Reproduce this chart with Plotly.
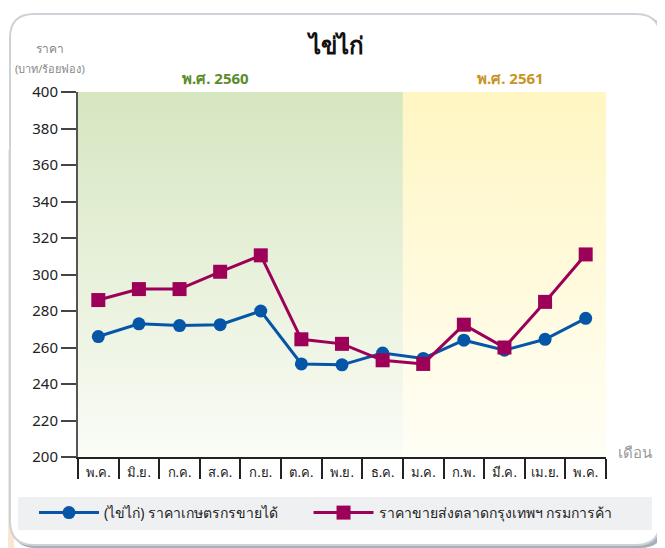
import plotly.graph_objects as go

# ข้อมูล
months = ["พ.ค.", "มิ.ย.", "ก.ค.", "ส.ค.", "ก.ย.", "ต.ค.", "พ.ย.", "ธ.ค.",
          "ม.ค.", "ก.พ.", "มี.ค.", "เม.ย.", "พ.ค."]
farm_price = [266, 273, 272, 272.5, 280, 251, 250.5, 257, 254, 264, 258.5, 264.5, 276]
wholesale_price = [286, 292, 292, 301.5, 310.5, 264.5, 262, 253, 251, 272.5, 260, 285, 311]
year_labels = ["พ.ศ. 2560", "พ.ศ. 2561"]
months_per_year = [8, 5]
y_ticks = list(range(200, 401, 20))

# หน้า html มี margin 8px ที่ body -> เลื่อนพิกัดทั้งหมด
OFF = 8
W, H = 665 - OFF, 548 - OFF
ML, MR, MT, MB = 78 - OFF, 59, 92 - OFF, 91
PW, PH = W - ML - MR, H - MT - MB


def px(x, y):
    """พิกัดพิกเซลของภาพอ้างอิง -> paper"""
    return (x - OFF - ML) / PW, (H - MB - (y - OFF)) / PH


def rounded(xa, ya, xb, yb, r):
    x0, y0 = px(xa, ya)
    x1, y1 = px(xb, yb)
    rx, ry = r / PW, r / PH
    return (f"M {x0 + rx},{y0} L {x1 - rx},{y0} Q {x1},{y0} {x1},{y0 - ry} "
            f"L {x1},{y1 + ry} Q {x1},{y1} {x1 - rx},{y1} L {x0 + rx},{y1} "
            f"Q {x0},{y1} {x0},{y1 + ry} L {x0},{y0 - ry} Q {x0},{y0} {x0 + rx},{y0} Z")


idx = list(range(len(months)))
fig = go.Figure()

# พื้นหลังไล่สี ปี 2560 / 2561
bg = [("#d6e6c0", "#fafcf6"), ("#fff6c2", "#fffef6")]
start = -0.5
for n, (top, bottom) in zip(months_per_year, bg):
    x0, x1 = start, start + n
    fig.add_trace(go.Scatter(
        x=[x0, x1, x1, x0, x0], y=[200, 200, 400, 400, 200],
        fill="toself", mode="none", showlegend=False, hoverinfo="skip",
        fillgradient=dict(type="vertical", colorscale=[[0, bottom], [1, top]]),
    ))
    start = x1

# ช่องว่างท้ายชื่อชุดแรกเพื่อให้ระยะห่างในคำอธิบายเท่าต้นฉบับ
fig.add_trace(go.Scatter(
    x=idx, y=farm_price, name="(ไข่ไก่) ราคาเกษตรกรขายได้" + "\u00a0" * 7,
    mode="lines+markers",
    line=dict(color="#0656a8", width=3),
    marker=dict(symbol="circle", size=13, color="#0656a8"),
))
fig.add_trace(go.Scatter(
    x=idx, y=wholesale_price, name="ราคาขายส่งตลาดกรุงเทพฯ กรมการค้า",
    mode="lines+markers",
    line=dict(color="#9c0058", width=3),
    marker=dict(symbol="square", size=14, color="#9c0058"),
))

shapes = []
# พื้นหลังสีส้มอ่อนด้านซ้าย
sx0, sy0 = px(0, 150)
sx1, sy1 = px(14, 548)
shapes.append(dict(type="rect", xref="paper", yref="paper", x0=sx0, x1=sx1, y0=sy1, y1=sy0,
                   fillcolor="#fbe6d2", line=dict(width=0), layer="below"))
# เงาและกรอบการ์ด
shapes.append(dict(type="path", xref="paper", yref="paper", path=rounded(12, 16, 664, 548, 24),
                   fillcolor="#a9afb7", line=dict(width=0), layer="below"))
shapes.append(dict(type="path", xref="paper", yref="paper", path=rounded(10, 14, 660, 545, 24),
                   fillcolor="white", line=dict(color="#cdd2d9", width=2), layer="below"))
# กล่องคำอธิบาย
lx0, ly0 = px(18, 497)
lx1, ly1 = px(652, 530)
shapes.append(dict(type="rect", xref="paper", yref="paper", x0=lx0, x1=lx1, y0=ly1, y1=ly0,
                   fillcolor="#eff0f2", line=dict(width=0), layer="below"))

annotations = [
    dict(text="<b>ไข่ไก่</b>", x=px(335, 0)[0], y=px(0, 45)[1], font=dict(size=24, color="#111")),
    dict(text="ราคา", x=px(50, 0)[0], y=px(0, 48)[1], font=dict(size=12, color="#888")),
    dict(text="(บาท/ร้อยฟอง)", x=px(50, 0)[0], y=px(0, 69)[1], font=dict(size=11, color="#888")),
    dict(text="<b>" + year_labels[0] + "</b>", x=px(215, 0)[0], y=px(0, 78)[1],
         font=dict(size=15, color="#5b8c2a")),
    dict(text="<b>" + year_labels[1] + "</b>", x=px(510, 0)[0], y=px(0, 78)[1],
         font=dict(size=15, color="#c8941f")),
    dict(text="เดือน", x=px(635, 0)[0], y=px(0, 452)[1], font=dict(size=15, color="#999")),
]
for a in annotations:
    a.update(xref="paper", yref="paper", showarrow=False, xanchor="center", yanchor="middle")

fig.update_layout(
    width=W, height=H,
    margin=dict(l=ML, r=MR, t=MT, b=MB),
    paper_bgcolor="white",
    plot_bgcolor="rgba(0,0,0,0)",
    font=dict(family="Noto Sans, Arial, sans-serif", color="#222"),
    showlegend=True,
    legend=dict(orientation="h", x=px(34, 0)[0], xanchor="left", y=px(0, 513)[1], yanchor="middle",
                bgcolor="rgba(0,0,0,0)", font=dict(size=14, color="#222"), itemwidth=60),
    shapes=shapes,
    annotations=annotations,
    xaxis=dict(
        range=[-0.5, len(months) - 0.5],
        tickmode="array", tickvals=idx, ticktext=months,
        ticks="", showgrid=False, zeroline=False,
        showline=True, linecolor="#222", linewidth=1.5,
        tickfont=dict(size=13, color="#222"),
        ticklabelstandoff=3,
        minor=dict(tickmode="array", tickvals=[i - 0.5 for i in range(len(months) + 1)],
                   ticks="outside", ticklen=20, tickcolor="#222", tickwidth=1.5),
        fixedrange=True,
    ),
    yaxis=dict(
        range=[200, 400], tickvals=y_ticks,
        ticks="outside", ticklen=15, tickcolor="#444", tickwidth=2,
        showline=True, linecolor="#555", linewidth=2,
        showgrid=True, gridcolor="#d9d9d9", griddash="dash", gridwidth=1,
        zeroline=False,
        tickfont=dict(size=15, color="#222"),
        fixedrange=True,
    ),
)

fig.write_html("out.html")
